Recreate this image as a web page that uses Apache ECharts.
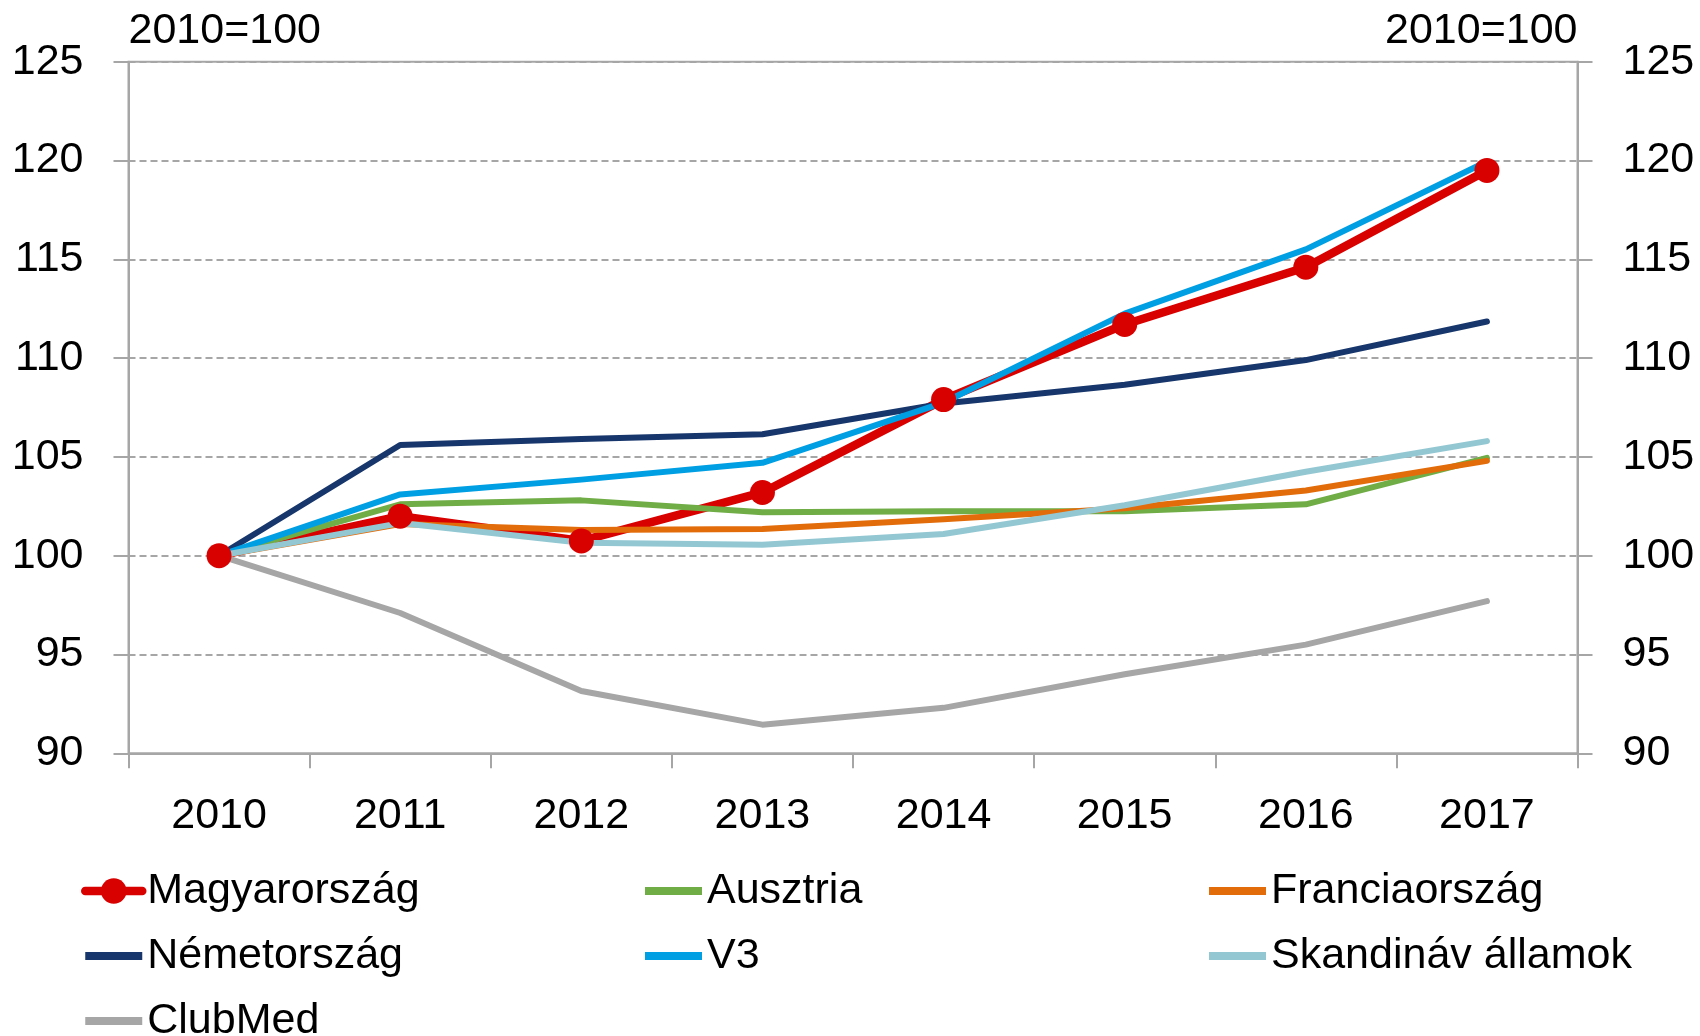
<!DOCTYPE html>
<html>
<head>
<meta charset="utf-8">
<script src="https://cdn.jsdelivr.net/npm/echarts@6/dist/echarts.min.js"></script>
<style>
  html, body { margin: 0; padding: 0; background: #ffffff; }
  #chart { width: 1700px; height: 1036px; }
</style>
</head>
<body>
<div id="chart"></div>
<script>
// Index values, 2010 = 100
const years = ['2010', '2011', '2012', '2013', '2014', '2015', '2016', '2017'];

const magyarorszag    = [100, 102.0, 100.75, 103.2, 107.9, 111.7, 114.6, 119.5];
const ausztria        = [100, 102.6, 102.8, 102.2, 102.25, 102.25, 102.6, 104.95];
const franciaorszag   = [100, 101.6, 101.3, 101.35, 101.85, 102.4, 103.3, 104.8];
const nemetorszag     = [100, 105.6, 105.9, 106.15, 107.7, 108.65, 109.9, 111.85];
const v3              = [100, 103.1, 103.85, 104.7, 107.75, 112.25, 115.5, 119.95];
const skandinav       = [100, 101.65, 100.65, 100.55, 101.1, 102.55, 104.25, 105.8];
const clubmed         = [100, 97.1, 93.15, 91.45, 92.3, 94.0, 95.5, 97.7];

const yTicks = { min: 90, max: 125, interval: 5 };
const unitLabel = '2010=100';

// legend columns (series names, top to bottom)
const legendColumns = [
  ['Magyarország', 'Németország', 'ClubMed'],
  ['Ausztria', 'V3'],
  ['Franciaország', 'Skandináv államok']
];

const FONT = '"Liberation Sans", Arial, sans-serif';
const FS = 43;
const GRAY = '#a6a6a6';

const lineIcon = 'path://M0,0 L58,0 L58,8 L0,8 Z';

const seriesDefs = [
  { name: 'Magyarország', data: magyarorszag, color: '#d90000', width: 8.5, marker: true },
  { name: 'Ausztria', data: ausztria, color: '#70ad47', width: 6 },
  { name: 'Franciaország', data: franciaorszag, color: '#e36c0a', width: 6 },
  { name: 'Németország', data: nemetorszag, color: '#17366b', width: 6 },
  { name: 'V3', data: v3, color: '#009fe3', width: 6 },
  { name: 'Skandináv államok', data: skandinav, color: '#93c8d3', width: 6 },
  { name: 'ClubMed', data: clubmed, color: '#a6a6a6', width: 6 }
];

function yAxisDef(position) {
  const left = position === 'left';
  return {
    type: 'value',
    position: position,
    min: yTicks.min,
    max: yTicks.max,
    interval: yTicks.interval,
    name: unitLabel,
    nameLocation: 'end',
    nameGap: 31,
    nameTextStyle: {
      fontFamily: FONT, fontSize: FS, color: '#000',
      align: left ? 'left' : 'right', verticalAlign: 'middle'
    },
    axisLine: { show: true, lineStyle: { color: GRAY, width: 2 } },
    axisTick: { show: true, inside: false, length: 15, lineStyle: { color: GRAY, width: 2 } },
    axisLabel: { fontFamily: FONT, fontSize: FS, color: '#000', margin: 45 },
    splitLine: left
      ? { show: true, lineStyle: { color: GRAY, width: 2, type: [7, 4] } }
      : { show: false }
  };
}

const legendLefts = [81, 645, 1209];

function legendDef(names, i) {
  return {
    orient: 'vertical',
    left: legendLefts[i], top: 869.5, height: 300, padding: 0,
    itemWidth: 57, itemHeight: 32, itemGap: 22,
    textStyle: { fontFamily: FONT, fontSize: FS, color: '#000' },
    data: names.map(n => {
      const s = seriesDefs.find(d => d.name === n);
      return s.marker
        ? { name: n, lineStyle: { width: s.width } }
        : { name: n, icon: lineIcon };
    })
  };
}

const option = {
  animation: false,
  backgroundColor: '#ffffff',
  grid: {
    left: 128.5, right: 122.5, top: 61.7, bottom: 282.7,
    show: true, borderColor: GRAY, borderWidth: 2, backgroundColor: 'transparent'
  },
  xAxis: {
    type: 'category',
    data: years,
    boundaryGap: true,
    axisLine: { show: true, lineStyle: { color: GRAY, width: 2 } },
    axisTick: { show: true, interval: 0, inside: false, length: 15, lineStyle: { color: GRAY, width: 2 } },
    axisLabel: { fontFamily: FONT, fontSize: FS, color: '#000', margin: 41, interval: 0 },
    splitLine: { show: false }
  },
  yAxis: [yAxisDef('left'), yAxisDef('right')],
  legend: legendColumns.map(legendDef),
  series: seriesDefs.map(s => ({
    name: s.name,
    type: 'line',
    yAxisIndex: 0,
    data: s.data,
    color: s.color,
    symbol: s.marker ? 'circle' : 'none',
    symbolSize: s.marker ? 25 : 0,
    showSymbol: !!s.marker,
    lineStyle: { color: s.color, width: s.width, cap: 'round', join: 'round' },
    itemStyle: { color: s.color },
    emphasis: { disabled: true }
  }))
};

const chart = echarts.init(document.getElementById('chart'), null, { renderer: 'canvas' });
chart.setOption(option);
</script>
</body>
</html>
